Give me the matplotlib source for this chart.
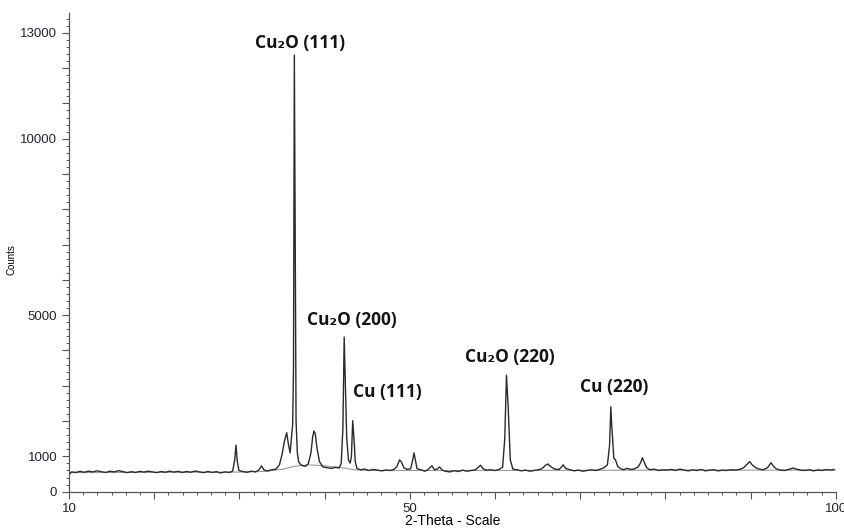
import numpy as np
import matplotlib
matplotlib.use("Agg")
import matplotlib.pyplot as plt
from matplotlib.ticker import MultipleLocator, FuncFormatter

# diffractogram (2-theta in degrees, counts)
two_theta = [
    10.0, 10.3, 10.8, 11.3, 11.8, 12.3, 12.8, 13.3, 13.8, 14.3, 14.8, 15.3, 15.8, 16.3,
    16.8, 17.3, 17.8, 18.3, 18.8, 19.3, 19.8, 20.3, 20.8, 21.3, 21.8, 22.3, 22.8, 23.3,
    23.8, 24.3, 24.8, 25.3, 25.8, 26.3, 26.8, 27.3, 27.8, 28.3, 28.8, 29.2, 29.45, 29.6,
    29.75, 29.95, 30.4, 30.9, 31.4, 31.9, 32.3, 32.6, 32.9, 33.3, 33.8, 34.3, 34.7, 35.0,
    35.3, 35.55, 35.75, 35.95, 36.1, 36.25, 36.35, 36.45, 36.55, 36.65, 36.8, 36.95, 37.2,
    37.5, 37.8, 38.1, 38.4, 38.6, 38.75, 38.9, 39.1, 39.4, 39.8, 40.3, 40.8, 41.3, 41.7,
    41.95, 42.15, 42.3, 42.45, 42.6, 42.8, 43.0, 43.15, 43.3, 43.45, 43.6, 43.8, 44.2,
    44.7, 45.2, 45.7, 46.2, 46.7, 47.2, 47.7, 48.2, 48.5, 48.8, 49.0, 49.3, 49.7, 50.1,
    50.35, 50.5, 50.65, 50.85, 51.3, 51.8, 52.2, 52.6, 52.9, 53.2, 53.5, 53.8, 54.2, 54.7,
    55.2, 55.7, 56.2, 56.7, 57.2, 57.7, 58.0, 58.3, 58.6, 59.0, 59.5, 60.0, 60.5, 60.9,
    61.15, 61.35, 61.55, 61.8, 62.1, 62.6, 63.1, 63.6, 64.1, 64.6, 65.1, 65.5, 65.9, 66.2,
    66.6, 67.0, 67.5, 67.8, 68.0, 68.3, 68.8, 69.3, 69.8, 70.3, 70.8, 71.3, 71.8, 72.3,
    72.8, 73.2, 73.45, 73.6, 73.7, 73.8, 73.95, 74.15, 74.4, 74.7, 75.1, 75.5, 75.9, 76.3,
    76.8, 77.1, 77.3, 77.5, 77.8, 78.2, 78.7, 79.2, 79.7, 80.2, 80.7, 81.2, 81.7, 82.2,
    82.7, 83.2, 83.7, 84.2, 84.7, 85.2, 85.7, 86.2, 86.7, 87.2, 87.7, 88.2, 88.7, 89.2,
    89.6, 89.9, 90.2, 90.6, 91.0, 91.5, 92.0, 92.4, 92.7, 93.0, 93.5, 94.0, 94.5, 95.0,
    95.4, 95.9, 96.4, 96.9, 97.4, 97.9, 98.4, 98.9, 99.4, 99.8,
]
counts = [
    480, 560, 545, 575, 550, 580, 560, 590, 565, 545, 580, 560, 595, 570,
    540, 565, 545, 575, 555, 580, 560, 540, 570, 550, 580, 555, 575, 545,
    570, 550, 585, 560, 540, 570, 545, 565, 530, 560, 545, 580, 900, 1320,
    850, 600, 570, 550, 580, 560, 620, 730, 610, 590, 620, 640, 760, 1050,
    1450, 1670, 1350, 1100, 1500, 1900, 3500, 12370, 7000, 2000, 1100, 850, 760,
    730, 720, 800, 1100, 1550, 1720, 1650, 1250, 850, 700, 680, 660, 690, 670,
    800, 1800, 4380, 3000, 1500, 900, 810, 1000, 2010, 1500, 850, 660, 620,
    640, 600, 630, 610, 590, 615, 600, 640, 720, 900, 850, 680, 630, 650,
    900, 1100, 900, 650, 620, 580, 640, 735, 620, 640, 700, 610, 580, 560,
    595, 570, 610, 580, 600, 620, 680, 750, 650, 610, 620, 600, 630, 700,
    1500, 3300, 2400, 900, 640, 620, 590, 610, 580, 600, 620, 650, 740, 785,
    700, 640, 630, 690, 760, 660, 620, 590, 610, 580, 600, 620, 600, 630,
    680, 760, 1300, 2405, 1900, 1555, 950, 900, 720, 660, 620, 660, 630, 640,
    700, 820, 960, 850, 680, 620, 640, 600, 620, 610, 630, 600, 640, 610,
    590, 620, 600, 630, 590, 610, 620, 590, 610, 600, 620, 610, 630, 680,
    780, 850, 760, 680, 640, 620, 680, 820, 720, 650, 610, 600, 630, 670,
    640, 610, 600, 620, 590, 615, 600, 625, 610, 630,
]

# fitted background (thin grey line)
bg_theta = [10, 30, 33, 35, 36.5, 38, 40, 42, 43.5, 45, 60, 80, 100]
bg_counts = [540, 555, 575, 630, 720, 760, 735, 680, 620, 600, 600, 610, 610]

# peak labels: text, 2-theta, counts (label centre)
peak_labels = ["Cu\u2082O (111)", "Cu\u2082O (200)", "Cu (111)", "Cu\u2082O (220)", "Cu (220)"]
label_theta = [37.1, 43.2, 47.4, 61.8, 74.0]
label_counts = [12710, 4864, 2824, 3816, 2966]

y_labelled = [0, 1000, 5000, 10000, 13000]
x_labelled = [10, 50, 100]

fig = plt.figure(figsize=(8.45, 5.28), dpi=100)
ax = fig.add_axes([0.0817, 0.0688, 0.9073, 0.9072])

ax.plot(bg_theta, bg_counts, color="#9a9a9a", lw=0.8)
ax.plot(two_theta, counts, color="#2a2a2a", lw=1.0)

for txt, xt, yc in zip(peak_labels, label_theta, label_counts):
    ax.text(xt, yc, txt, ha="center", va="center", fontsize=12.5, fontweight="bold",
            color="#141414", family=["Open Sans", "DejaVu Sans"])

ax.set_xlim(10, 100)
ax.set_ylim(0, 13570)

for s in ["top", "right"]:
    ax.spines[s].set_visible(False)
for s in ["left", "bottom"]:
    ax.spines[s].set_color("#555555")
    ax.spines[s].set_linewidth(0.9)

ax.xaxis.set_major_locator(MultipleLocator(10))
ax.xaxis.set_minor_locator(MultipleLocator(10 / 6))
ax.xaxis.set_major_formatter(FuncFormatter(
    lambda v, p: f"{v:.0f}" if round(v) in x_labelled else ""))
ax.yaxis.set_major_locator(MultipleLocator(1000))
ax.yaxis.set_minor_locator(MultipleLocator(200))
ax.yaxis.set_major_formatter(FuncFormatter(
    lambda v, p: f"{v:.0f}" if round(v) in y_labelled else ""))

ax.tick_params(axis="both", which="major", direction="out", length=5, width=0.8,
               color="#555555", labelsize=9.5, labelcolor="#222233")
ax.tick_params(axis="both", which="minor", direction="out", length=2.5, width=0.7,
               color="#555555")
for lab in ax.get_xticklabels() + ax.get_yticklabels():
    lab.set_family("Liberation Sans")

ax.set_ylabel("Counts", fontsize=7, family="Liberation Sans")
ax.yaxis.set_label_coords(-0.068, 0.484)
ax.set_xlabel("2-Theta - Scale", fontsize=10, family="Liberation Sans", labelpad=-1)

fig.savefig("out.png", dpi=100)
